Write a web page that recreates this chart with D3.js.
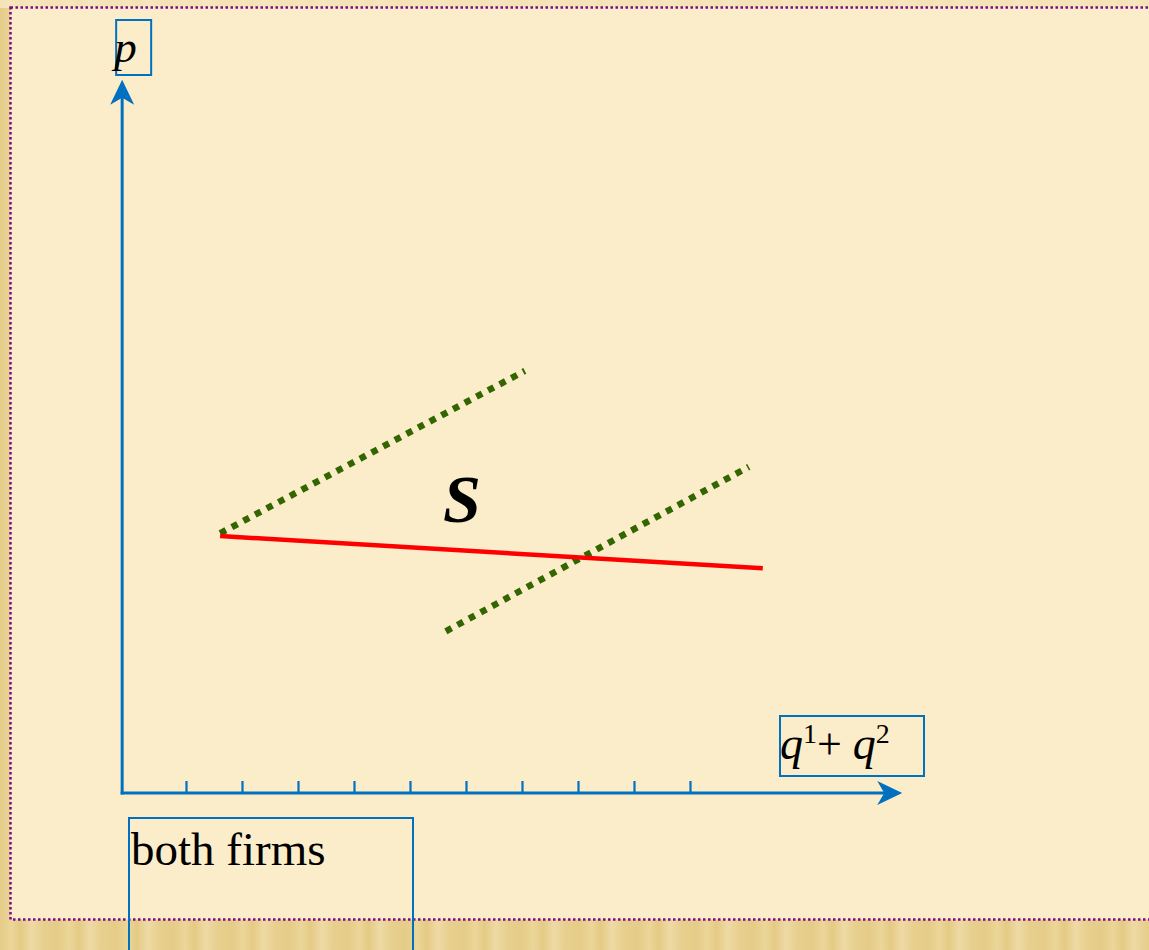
<!DOCTYPE html>
<html>
<head>
<meta charset="utf-8">
<script src="https://cdn.jsdelivr.net/npm/d3@7"></script>
<style>
  body { margin: 0; background: #fbedc9; }
  svg { display: block; }
  text { font-family: 'Liberation Serif', 'Times New Roman', serif; fill: #000; }
</style>
</head>
<body>
<svg id="chart"></svg>
<script>
// data: q in tick units along the quantity axis, p in price units
const qTicks = [1, 2, 3, 4, 5, 6, 7, 8, 9, 10];
const supplyLine = [{q: 1.61, p: 3.67}, {q: 11.3, p: 3.21}];
const firmLineA = [{q: 1.61, p: 3.71}, {q: 7.05, p: 6.03}];
const firmLineB = [{q: 5.64, p: 2.31}, {q: 11.05, p: 4.66}];
const qAxisExtent = [-0.14, 13.79];
const pAxisExtent = [0, 10.19];
const curveLabel = {q: 5.59, p: 3.87, text: 'S'};

// dimensions
const width = 1149;
const height = 950;
const blue = '#0070c0';

const svg = d3.select('#chart')
    .attr('width', width)
    .attr('height', height);

const xScale = d3.scaleLinear().domain([0, 10]).range([130, 690]);
const yScale = d3.scaleLinear().domain([0, 10]).range([793, 93]);

// background texture + slide panel
const defs = svg.append('defs');
const grad = defs.append('linearGradient')
    .attr('id', 'gold')
    .attr('x1', 0).attr('x2', 1).attr('y1', 0).attr('y2', 0);
[['0%', '#e5cc88'], ['20%', '#ebd699'], ['35%', '#e4ca84'], ['55%', '#eedaa5'], ['75%', '#e7cf8e'], ['100%', '#e5cc88']]
    .forEach(([o, c]) => grad.append('stop').attr('offset', o).attr('stop-color', c));
defs.append('pattern')
    .attr('id', 'texture')
    .attr('patternUnits', 'userSpaceOnUse')
    .attr('width', 58).attr('height', 40)
    .append('rect')
    .attr('width', 58).attr('height', 40)
    .attr('fill', 'url(#gold)');

svg.append('rect')
    .attr('width', width).attr('height', height)
    .attr('fill', 'url(#texture)');

// top strip is lighter
svg.append('rect')
    .attr('width', width).attr('height', 8)
    .attr('fill', '#fbedc9')
    .attr('opacity', 0.7);

svg.append('rect')
    .attr('x', 10.5).attr('y', 7.5)
    .attr('width', width).attr('height', 912)
    .attr('fill', '#fbedc9')
    .attr('stroke', '#7a0a8a')
    .attr('stroke-width', 2.5)
    .attr('stroke-dasharray', '2.5,2.5');

// axes
const x0 = xScale(qAxisExtent[0]);
const y0 = yScale(pAxisExtent[0]);
const xTip = xScale(qAxisExtent[1]);
const yTip = yScale(pAxisExtent[1]);

svg.append('line')
    .attr('x1', x0).attr('y1', y0 + 1.5)
    .attr('x2', x0).attr('y2', yTip + 12)
    .attr('stroke', blue).attr('stroke-width', 3);

svg.append('line')
    .attr('x1', x0 - 1.5).attr('y1', y0)
    .attr('x2', xTip - 12).attr('y2', y0)
    .attr('stroke', blue).attr('stroke-width', 3);

const arrowHead = 'M0,0 L-25,-12 L-18,0 L-25,12 Z';
svg.append('path')
    .attr('d', arrowHead)
    .attr('transform', `translate(${xTip},${y0})`)
    .attr('fill', blue);
svg.append('path')
    .attr('d', arrowHead)
    .attr('transform', `translate(${x0},${yTip}) rotate(-90)`)
    .attr('fill', blue);

const xAxis = svg.append('g')
    .attr('transform', `translate(0,${y0})`)
    .call(d3.axisTop(xScale).tickValues(qTicks).tickSize(12).tickFormat(''));
xAxis.select('.domain').remove();
xAxis.selectAll('.tick line')
    .attr('stroke', blue)
    .attr('stroke-width', 2.2);

// lines
const line = d3.line().x(d => xScale(d.q)).y(d => yScale(d.p));

[firmLineA, firmLineB].forEach(seg => {
    svg.append('path')
        .attr('d', line(seg))
        .attr('fill', 'none')
        .attr('stroke', '#336600')
        .attr('stroke-width', 6.5)
        .attr('stroke-dasharray', '6.5,6.7');
});

svg.append('path')
    .attr('d', line(supplyLine))
    .attr('fill', 'none')
    .attr('stroke', '#ff0000')
    .attr('stroke-width', 4.5);

svg.append('text')
    .attr('x', xScale(curveLabel.q))
    .attr('y', yScale(curveLabel.p))
    .style('font-size', '68px')
    .style('font-weight', 'bold')
    .style('font-style', 'italic')
    .text(curveLabel.text);

// label boxes
const boxes = [
    {x: x0 - 6, y: 20, w: 35, h: 55},
    {x: 780, y: 716, w: 144, h: 60},
    {x: 129, y: 818, w: 284, h: 200}
];
svg.selectAll('rect.box')
    .data(boxes)
    .enter()
    .append('rect')
    .attr('class', 'box')
    .attr('x', d => d.x).attr('y', d => d.y)
    .attr('width', d => d.w).attr('height', d => d.h)
    .attr('fill', 'none')
    .attr('stroke', blue)
    .attr('stroke-width', 2);

// p label
svg.append('text')
    .attr('x', x0 - 8)
    .attr('y', 62)
    .style('font-size', '45px')
    .style('font-style', 'italic')
    .text('p');

// q1 + q2 label
const qLabel = svg.append('text')
    .attr('x', 780)
    .attr('y', 759)
    .style('font-size', '46px');
qLabel.append('tspan').style('font-style', 'italic').text('q');
qLabel.append('tspan').attr('dy', -16).style('font-size', '28px').text('1');
qLabel.append('tspan').attr('dy', 16).style('font-size', '44px').text('+ ');
qLabel.append('tspan').style('font-style', 'italic').text('q');
qLabel.append('tspan').attr('dy', -16).style('font-size', '28px').text('2');

svg.append('text')
    .attr('x', 131)
    .attr('y', 865)
    .style('font-size', '47px')
    .text('both firms');
</script>
</body>
</html>
